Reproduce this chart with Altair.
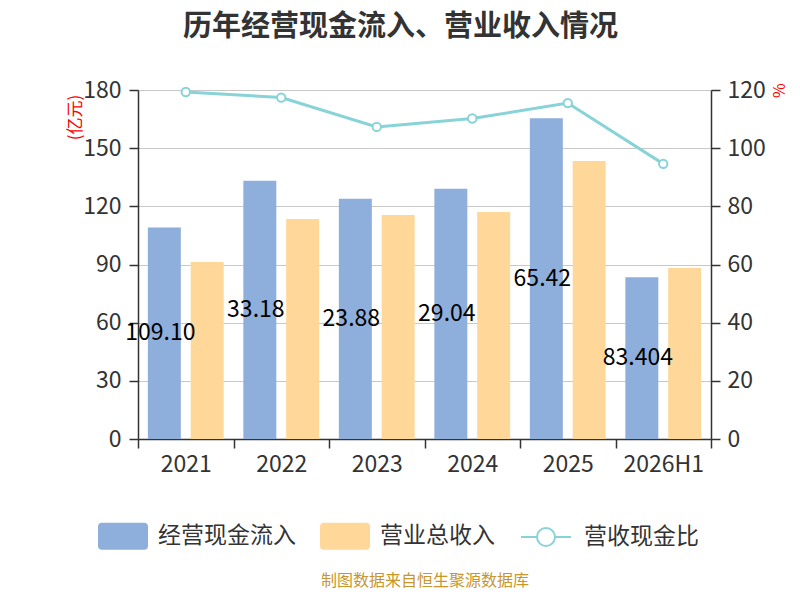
import altair as alt
import pandas as pd

years = ["2021", "2022", "2023", "2024", "2025", "2026H1"]
cash_in = [109.10, 133.18, 123.88, 129.04, 165.42, 83.404]
revenue = [91.3, 113.5, 115.5, 117.1, 143.4, 88.2]
ratio = [119.3, 117.4, 107.3, 110.2, 115.5, 94.6]
cash_labels = ["109.10", "33.18", "23.88", "29.04", "65.42", "83.404"]
series_names = ["经营现金流入", "营业总收入"]
line_name = "营收现金比"
bar_colors = ["#8eaedb", "#ffd899"]
line_color = "#88d3d7"

rows = []
for i, yr in enumerate(years):
    rows.append({"year": yr, "series": series_names[0], "value": cash_in[i], "label": cash_labels[i]})
    rows.append({"year": yr, "series": series_names[1], "value": revenue[i], "label": ""})
bars_df = pd.DataFrame(rows)
line_df = pd.DataFrame({"year": years, "ratio": ratio, "name": [line_name] * len(years)})

FONT = "Noto Sans CJK SC"
TXT = "#333333"
LBL = 23

x_enc = alt.X(
    "year:N",
    sort=years,
    scale=alt.Scale(paddingInner=0, paddingOuter=0),
    axis=alt.Axis(
        title="制图数据来自恒生聚源数据库",
        titleColor="#c8962a",
        titleFontSize=16,
        titleFontWeight="normal",
        titleFont=FONT,
        titleY=141,
        titleBaseline="middle",
        labelFont=FONT,
        labelFontSize=LBL,
        labelColor=TXT,
        labelAngle=0,
        labelPadding=5,
        tickBand="extent",
        tickSize=9,
        tickColor=TXT,
        tickWidth=1.5,
        domainColor=TXT,
        domainWidth=1.5,
        grid=False,
    ),
)

xoff = alt.XOffset("series:N", sort=series_names, scale=alt.Scale(paddingInner=0.23, paddingOuter=0.23))

y_left = alt.Y(
    "value:Q",
    scale=alt.Scale(domain=[0, 180], nice=False),
    axis=alt.Axis(
        values=[0, 30, 60, 90, 120, 150, 180],
        title="(亿元)",
        titleColor="red",
        titleFontSize=17,
        titleFontWeight="normal",
        titleFont=FONT,
        titleAngle=270,
        titleX=-63,
        titleY=27,
        titleAlign="center",
        titleBaseline="middle",
        labelFont=FONT,
        labelFontSize=LBL,
        labelColor=TXT,
        labelPadding=8,
        tickSize=9,
        tickColor=TXT,
        tickWidth=1.5,
        domainColor=TXT,
        domainWidth=1.5,
        gridColor="#c8c8c8",
        gridWidth=1,
    ),
)

bars = alt.Chart(bars_df).mark_bar().encode(
    x=x_enc,
    xOffset=xoff,
    y=y_left,
    fill=alt.Fill(
        "series:N",
        sort=series_names,
        scale=alt.Scale(domain=series_names, range=bar_colors),
        legend=alt.Legend(
            title=None,
            orient="none",
            legendX=-40,
            legendY=421,
            direction="horizontal",
            symbolType="M-0.84,-0.54L0.84,-0.54Q1,-0.54,1,-0.38L1,0.38Q1,0.54,0.84,0.54L-0.84,0.54Q-1,0.54,-1,0.38L-1,-0.38Q-1,-0.54,-0.84,-0.54Z",
            symbolSize=2500,
            symbolStrokeWidth=0,
            labelFont=FONT,
            labelFontSize=LBL,
            labelColor=TXT,
            labelOffset=10,
            columnPadding=24,
        ),
    ),
)

labels = alt.Chart(bars_df).transform_filter(
    alt.datum.series == series_names[0]
).transform_calculate(
    half="datum.value / 2"
).mark_text(font=FONT, fontSize=LBL, color="#000000", align="center", baseline="middle", dx=-4).encode(
    x=alt.X("year:N", sort=years),
    xOffset=alt.XOffset("series:N", sort=series_names),
    y=alt.Y("half:Q"),
    text="label:N",
)

y_right = alt.Y(
    "ratio:Q",
    scale=alt.Scale(domain=[0, 120], nice=False),
    axis=alt.Axis(
        orient="right",
        values=[0, 20, 40, 60, 80, 100, 120],
        title="%",
        titleColor="red",
        titleFontSize=16,
        titleFontWeight="normal",
        titleFont=FONT,
        titleAngle=270,
        titleX=68,
        titleY=0,
        titleAlign="center",
        titleBaseline="middle",
        labelFont=FONT,
        labelFontSize=LBL,
        labelColor=TXT,
        labelPadding=7,
        tickSize=9,
        tickColor=TXT,
        tickWidth=1.5,
        domainColor=TXT,
        domainWidth=1.5,
        grid=False,
    ),
)

line = alt.Chart(line_df).mark_line(strokeWidth=3).encode(
    x=alt.X("year:N", sort=years),
    y=y_right,
    stroke=alt.Stroke(
        "name:N",
        scale=alt.Scale(domain=[line_name], range=[line_color]),
        legend=alt.Legend(
            title=None,
            orient="none",
            legendX=382,
            legendY=421,
            symbolType="M-1,0L-0.36,0M0.36,0L1,0M-0.36,0A0.36,0.36,0,1,1,0.36,0A0.36,0.36,0,1,1,-0.36,0Z",
            symbolSize=2500,
            symbolStrokeWidth=2,
            symbolFillColor="white",
            labelFont=FONT,
            labelFontSize=LBL,
            labelColor=TXT,
            labelOffset=12,
        ),
    ),
)

pts = alt.Chart(line_df).mark_point(filled=True, fill="white", stroke=line_color, strokeWidth=2, size=70, opacity=1).encode(
    x=alt.X("year:N", sort=years),
    y=alt.Y("ratio:Q", scale=alt.Scale(domain=[0, 120], nice=False)),
)

left = alt.layer(bars, labels)
right = alt.layer(line, pts)

chart = alt.layer(left, right).resolve_scale(y="independent").properties(
    width=573,
    height=349,
    autosize=alt.AutoSizeParams(type="none"),
    padding={"left": 130, "top": 82, "right": 80, "bottom": 153},
    title=alt.TitleParams(
        "历年经营现金流入、营业收入情况",
        font=FONT,
        fontSize=29,
        fontWeight="bold",
        color=TXT,
        anchor="middle",
        dx=-24,
        offset=37,
    ),
).configure_view(stroke=None)

chart.save("out.html", embed_options={"renderer": "svg", "actions": False})
